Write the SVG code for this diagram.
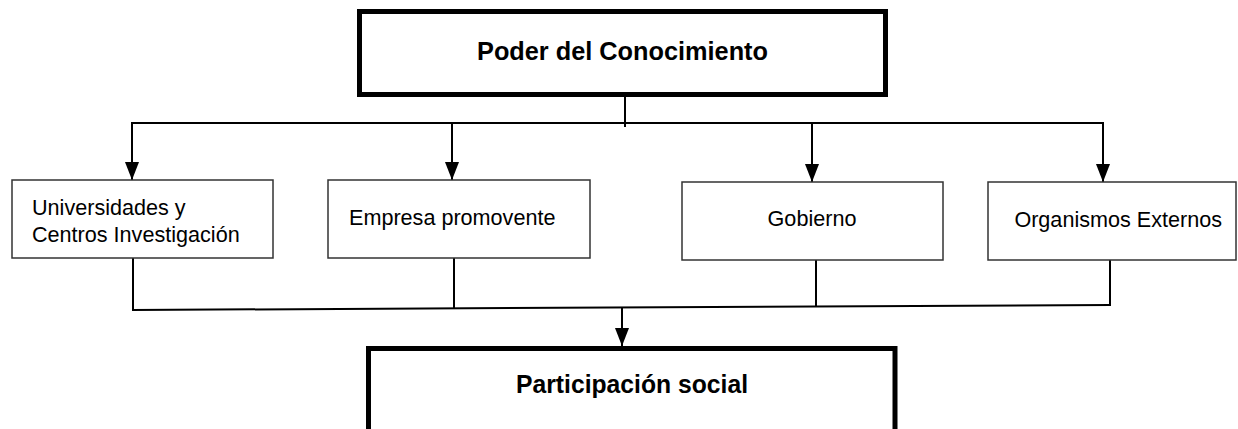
<svg xmlns="http://www.w3.org/2000/svg" width="1238" height="429" viewBox="0 0 1238 429">
<defs>
<style>
.big{fill:#fff;stroke:#000;stroke-width:5}
.box{fill:#fff;stroke:#333;stroke-width:1.5}
.ln{fill:none;stroke:#000;stroke-width:2}
.t{font-family:"Liberation Sans",Arial,sans-serif;font-size:21.6px;fill:#000}
.tb{font-family:"Liberation Sans",Arial,sans-serif;font-size:25.3px;font-weight:bold;fill:#000}
</style>
<marker id="arr" markerUnits="userSpaceOnUse" markerWidth="18" markerHeight="14" refX="18" refY="7" orient="auto" viewBox="0 0 18 14">
<path d="M0,0 L18,7 L0,14 Z" fill="#000"/>
</marker>
</defs>
<rect width="1238" height="429" fill="#fff"/>
<g id="connectors">
<line class="ln" x1="625" y1="97" x2="625" y2="127"/>
<line class="ln" x1="132" y1="123" x2="1104" y2="123"/>
<line class="ln" x1="132" y1="122" x2="132" y2="180" marker-end="url(#arr)"/>
<line class="ln" x1="452" y1="124" x2="452" y2="180" marker-end="url(#arr)"/>
<line class="ln" x1="812" y1="124" x2="812" y2="182" marker-end="url(#arr)"/>
<line class="ln" x1="1103" y1="122" x2="1103" y2="182" marker-end="url(#arr)"/>
<line class="ln" x1="133" y1="258" x2="133" y2="310"/>
<line class="ln" x1="454" y1="258" x2="454" y2="308.5"/>
<line class="ln" x1="816" y1="260" x2="816" y2="307"/>
<line class="ln" x1="1110" y1="260" x2="1110" y2="306"/>
<line class="ln" x1="132" y1="310" x2="1111" y2="305"/>
<line class="ln" x1="622" y1="307" x2="622" y2="346" marker-end="url(#arr)"/>
</g>
<g id="n-poder">
<rect class="big" x="359.5" y="11.5" width="526" height="83"/>
<text class="tb" x="477" y="60" textLength="291" lengthAdjust="spacingAndGlyphs">Poder del Conocimiento</text>
</g>
<g id="n-universidades">
<rect class="box" x="12" y="180" width="261" height="78"/>
<text class="t" x="32" y="215">Universidades y</text>
<text class="t" x="32" y="242">Centros Investigación</text>
</g>
<g id="n-empresa">
<rect class="box" x="328" y="180" width="262" height="78"/>
<text class="t" x="349" y="225">Empresa promovente</text>
</g>
<g id="n-gobierno">
<rect class="box" x="682" y="182" width="261" height="78"/>
<text class="t" x="812" y="226" text-anchor="middle">Gobierno</text>
</g>
<g id="n-organismos">
<rect class="box" x="988" y="182" width="248" height="78"/>
<text class="t" x="1222" y="227" text-anchor="end">Organismos Externos</text>
</g>
<g id="n-participacion">
<rect class="big" x="368.5" y="348.5" width="526.5" height="100"/>
<text class="tb" x="632" y="393" text-anchor="middle" textLength="232" lengthAdjust="spacingAndGlyphs">Participación social</text>
</g>
</svg>
